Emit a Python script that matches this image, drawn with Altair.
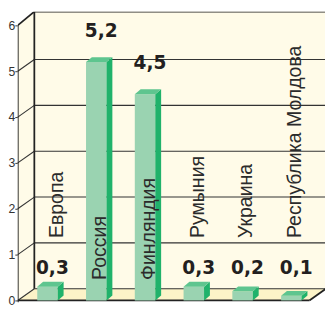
import altair as alt
import pandas as pd

categories = ["Европа", "Россия", "Финляндия", "Румыния", "Украина", "Республика Молдова"]
values = [0.3, 5.2, 4.5, 0.3, 0.2, 0.1]
value_text = ["0,3", "5,2", "4,5", "0,3", "0,2", "0,1"]
y_ticks = [0, 1, 2, 3, 4, 5, 6]

# geometry / style constants (scale units)
XMIN, XMAX = -0.61, 5.69
YMIN, YMAX = -0.149, 6.298
HALF = 0.21          # half bar width
BDX, BDY = 0.12, 0.106   # bar depth offsets
WX, WY = 0.34, 0.255     # wall depth offsets
FLOOR_END = 5.37
TOPV = 6
WALL_TOP = 6.3

FRONT = "#9ad3b1"
SIDE = "#20b26b"
TOP = "#5ec58f"
WALL = "#fffbe8"
FLOOR = "#fcf3c8"
LINE = "#222222"
GRID = "#333333"

xs = alt.Scale(domain=[XMIN, XMAX], nice=False, zero=False)
ys = alt.Scale(domain=[YMIN, YMAX], nice=False, zero=False)

y_axis = alt.Axis(values=y_ticks, domain=False, grid=False, tickSize=3, labelPadding=0,
                  labelFontSize=12.5, labelFont="Liberation Sans", labelColor="#333",
                  tickColor="#333", title=None, format="d", labelOverlap=False)


def X(f):
    return alt.X(f, type="quantitative", scale=xs, axis=None)


def X2(f):
    return alt.X2(f)


def Y(f):
    return alt.Y(f, type="quantitative", scale=ys, axis=y_axis)


def Y2(f):
    return alt.Y2(f)


# back wall
wall_df = pd.DataFrame({"x": [XMIN + WX], "x2": [XMAX], "y": [WY], "y2": [WALL_TOP]})
wall = alt.Chart(wall_df).mark_rect(color=WALL).encode(
    x=X("x"), x2=X2("x2"), y=Y("y"), y2=Y2("y2"))

# left side wall
lw_df = pd.DataFrame({"x": [XMIN, XMIN + WX], "lo": [0, WY], "hi": [TOPV, WALL_TOP]})
left_wall = alt.Chart(lw_df).mark_area(color=WALL, opacity=1).encode(
    x=X("x"), y=Y("hi"), y2=Y2("lo"))

# floor
fl_df = pd.DataFrame({"y": [0, WY], "xa": [XMIN, XMIN + WX], "xb": [FLOOR_END, FLOOR_END + WX]})
floor = alt.Chart(fl_df).mark_area(orient="horizontal", color=FLOOR, opacity=1, clip=True).encode(
    y=Y("y"), x=X("xa"), x2=X2("xb"))

# back grid lines (including floor back line)
g_df = pd.DataFrame({"k": [k + WY for k in y_ticks[:-1]], "x": XMIN + WX, "x2": XMAX})
grid = alt.Chart(g_df).mark_rule(color=GRID, strokeWidth=1.1).encode(
    x=X("x"), x2=X2("x2"), y=Y("k"))

# diagonal lines on side wall
d_df = pd.DataFrame({"x": XMIN, "x2": XMIN + WX, "y": y_ticks[:-1],
                     "y2": [k + WY for k in y_ticks[:-1]]})
diag = alt.Chart(d_df).mark_rule(color=GRID, strokeWidth=1.1).encode(
    x=X("x"), x2=X2("x2"), y=Y("y"), y2=Y2("y2"))

# frame lines
frame_df = pd.DataFrame({
    "x": [XMIN + WX, XMIN + WX, XMIN, XMIN, FLOOR_END, XMIN],
    "x2": [XMAX, XMIN + WX, XMIN, FLOOR_END, FLOOR_END + WX, XMIN + WX],
    "y": [WALL_TOP, WY, -0.04, 0, 0, TOPV],
    "y2": [WALL_TOP, WALL_TOP, TOPV, 0, WY, WALL_TOP],
})
frame = alt.Chart(frame_df).mark_rule(color=LINE, strokeWidth=1.8, clip=True).encode(
    x=X("x"), x2=X2("x2"), y=Y("y"), y2=Y2("y2"))

# bars
idx = list(range(len(categories)))
front_df = pd.DataFrame({
    "cat": categories,
    "x0": [i - HALF for i in idx],
    "x1": [i + HALF for i in idx],
    "v": values,
    "base": 0.0,
})
front = alt.Chart(front_df).mark_rect(color=FRONT).encode(
    x=X("x0"), x2=X2("x1"), y=Y("v"), y2=Y2("base"))

side_rows = []
top_rows = []
for i, c, v in zip(idx, categories, values):
    side_rows.append({"cat": c, "x": i + HALF, "lo": 0.0, "hi": v})
    side_rows.append({"cat": c, "x": i + HALF + BDX, "lo": BDY, "hi": v + BDY})
    top_rows.append({"cat": c, "y": v, "xa": i - HALF, "xb": i + HALF})
    top_rows.append({"cat": c, "y": v + BDY, "xa": i - HALF + BDX, "xb": i + HALF + BDX})
side = alt.Chart(pd.DataFrame(side_rows)).mark_area(color=SIDE, opacity=1).encode(
    x=X("x"), y=Y("hi"), y2=Y2("lo"), detail="cat:N")
top = alt.Chart(pd.DataFrame(top_rows)).mark_area(orient="horizontal", color=TOP, opacity=1).encode(
    y=Y("y"), x=X("xa"), x2=X2("xb"), detail="cat:N")

# category labels
lab_df = pd.DataFrame({
    "cat": categories,
    "x": [i + (0.2 if i == 0 else 0.08) for i in idx],
    "y": [0.447 if v >= 1 else 1.36 for v in values],
})
cat_labels = alt.Chart(lab_df).mark_text(
    angle=270, align="left", baseline="middle", font="Liberation Sans",
    fontSize=20, color="#2b2b2b").encode(x=X("x"), y=Y("y"), text="cat:N")

# value labels
val_df = pd.DataFrame({
    "t": value_text,
    "x": [i + 0.1 for i in idx],
    "y": [v + 0.54 if v >= 1 else 0.574 for v in values],
})
val_labels = alt.Chart(val_df).mark_text(
    align="center", baseline="alphabetic", font="DejaVu Sans", fontWeight="bold",
    fontSize=19, color="#231f20").encode(x=X("x"), y=Y("y"), text="t:N")

chart = alt.layer(
    wall, left_wall, floor, grid, diag, frame, front, side, top, cat_labels, val_labels
).properties(
    width=315, height=303,
    autosize=alt.AutoSizeParams(type="none"),
    padding={"left": 10, "top": 0, "right": 0, "bottom": 0},
    background="white",
).configure_view(stroke=None)

chart.save("out.html", embed_options={"renderer": "svg", "actions": False})
